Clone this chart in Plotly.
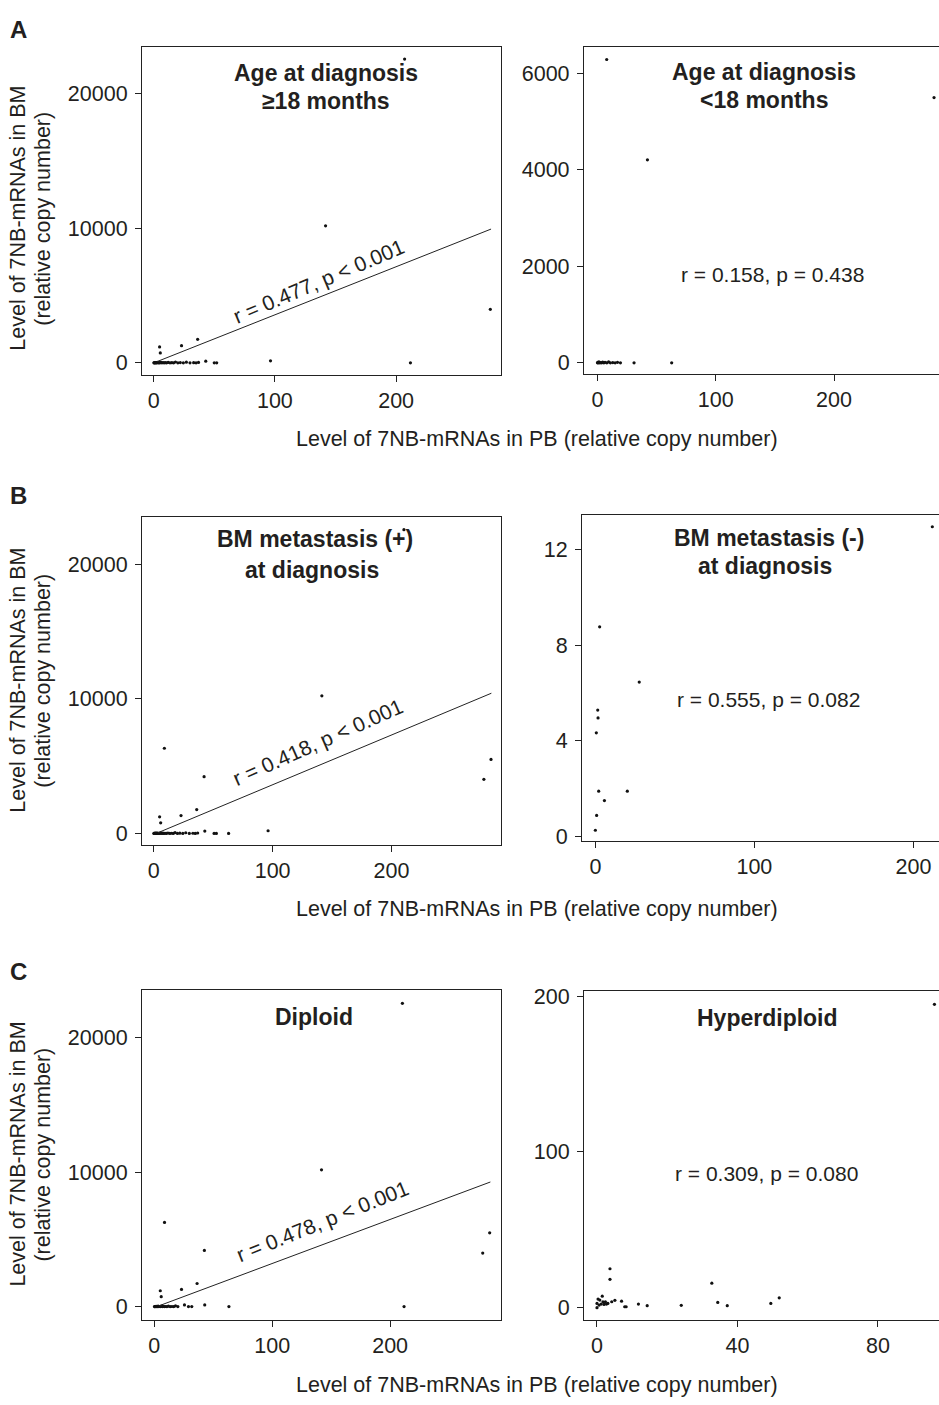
import plotly.graph_objects as go

W, H = 939, 1405
FONT = "Liberation Sans, Arial, sans-serif"
TXT = "#231f20"

# ---------------- data ----------------
# Panel A left: Age at diagnosis >=18 months
a1_x = [0.2, 0.5, 0.8, 1.1, 1.5, 1.9, 2.3, 2.8, 3.3, 3.9, 4.5, 5.2, 6.0, 6.8, 7.7, 8.6, 9.6,
        10.7, 12.0, 13.5, 15.0, 16.5, 18.0, 20.0, 22.0, 24.5, 27.0, 30.0, 33.0, 35.0, 37.0,
        43.0, 50.0, 52.0, 96.4, 211.8, 277.7, 141.8, 207.0, 4.9, 5.5, 23.0, 36.3]
a1_y = [0, 5, 10, 0, 20, 0, 15, 0, 30, 0, 10, 0, 40, 0, 20, 0, 10,
        0, 30, 0, 10, 0, 60, 0, 20, 0, 50, 0, 10, 0, 30,
        120, 0, 0, 150, 0, 3970, 10170, 22540, 1180, 735, 1270, 1740]
a1_fit = [-8.5, 35.7]      # intercept, slope
a1_fit_x = [3.0, 278.3]
a1_label = "r = 0.477, p < 0.001"

# Panel A right: Age at diagnosis <18 months
a2_x = [0.1, 0.4, 0.8, 1.3, 2.0, 2.8, 3.6, 4.5, 5.5, 6.5, 8.0, 9.5, 11.0, 13.0, 15.0, 17.0,
        19.5, 31.0, 62.8, 7.9, 42.3, 284.5]
a2_y = [0, 10, 0, 20, 0, 5, 0, 15, 0, 10, 0, 20, 0, 5, 0, 10,
        0, 0, 0, 6290, 4210, 5500]
a2_label = "r = 0.158, p = 0.438"

# Panel B left: BM metastasis (+) at diagnosis
b1_x = [0.2, 0.5, 0.8, 1.1, 1.5, 1.9, 2.3, 2.8, 3.3, 3.9, 4.5, 5.2, 6.0, 6.8, 7.7, 8.6, 9.6,
        10.7, 12.0, 13.5, 15.0, 16.5, 18.0, 20.0, 22.0, 24.5, 27.0, 30.0, 33.0, 35.0, 37.0,
        43.0, 50.8, 52.7, 63.0, 96.2, 5.0, 5.9, 23.0, 36.2, 42.4, 9.0, 141.4, 210.4, 277.6, 283.6]
b1_y = [0, 5, 10, 0, 20, 0, 15, 0, 30, 0, 10, 0, 40, 0, 20, 0, 10,
        0, 30, 0, 10, 0, 60, 0, 20, 0, 50, 0, 10, 0, 30,
        170, 0, 0, 0, 196, 1230, 785, 1325, 1770, 4220, 6330, 10230, 22580, 4020, 5500]
b1_fit = [-83.0, 37.0]
b1_fit_x = [3.6, 283.9]
b1_label = "r = 0.418, p < 0.001"

# Panel B right: BM metastasis (-) at diagnosis
b2_x = [211.9, 2.7, 27.6, 1.5, 1.7, 0.6, 2.1, 20.1, 5.7, 0.8, 0.0]
b2_y = [12.95, 8.77, 6.46, 5.29, 4.96, 4.34, 1.90, 1.90, 1.51, 0.89, 0.27]
b2_label = "r = 0.555, p = 0.082"

# Panel C left: Diploid
c1_x = [0.2, 0.5, 0.8, 1.1, 1.5, 1.9, 2.3, 2.8, 3.3, 3.9, 4.5, 5.2, 6.0, 6.8, 7.7, 8.6, 9.6,
        10.7, 12.0, 13.5, 15.0, 16.5, 18.0, 20.0,
        25.6, 29.0, 31.8, 42.8, 63.3, 211.8, 5.1, 5.9, 23.1, 36.3, 42.5, 8.7, 141.8, 210.4,
        278.5, 284.4]
c1_y = [0, 5, 10, 0, 20, 0, 15, 0, 30, 0, 10, 0, 40, 0, 20, 0, 10,
        0, 30, 0, 10, 0, 60, 0,
        123, 0, 0, 123, 0, 0, 1180, 740, 1280, 1720, 4180, 6270, 10185, 22580,
        3985, 5490]
c1_fit = [-71.0, 32.8]
c1_fit_x = [3.7, 285.0]
c1_label = "r = 0.478, p < 0.001"

# Panel C right: Hyperdiploid
c2_x = [96.1, 3.7, 3.7, 32.7, 51.9, 49.5, 34.4, 37.1, 24.0, 14.3, 11.8, 7.9, 8.3, 7.0, 5.1,
        4.2, 1.5, 0.3, 0.8, 0.0, 0.0, 0.6, 1.2, 2.0, 2.7, 3.1, 1.7, 2.4]
c2_y = [194.7, 25.0, 18.2, 15.7, 6.3, 2.75, 3.4, 1.3, 1.5, 1.3, 2.3, 0.6, 0.6, 4.2, 4.7,
        3.8, 7.4, 5.5, 4.9, 2.75, 0.0, 1.7, 2.3, 2.1, 2.3, 2.75, 3.8, 3.8]
c2_label = "r = 0.309, p = 0.080"

big_ticks = [0, 10000, 20000]
big_ticktext = ["0", "10000", "20000"]
x300_ticks = [0, 100, 200]
x300_text = ["0", "100", "200"]
a2_yticks = [0, 2000, 4000, 6000]
b2_yticks = [0, 4, 8, 12]
c2_yticks = [0, 100, 200]
c2_xticks = [0, 40, 80]

titles = {
    "a1": ["Age at diagnosis", "\u226518 months"],
    "a2": ["Age at diagnosis", "<18 months"],
    "b1": ["BM metastasis (+)", "at diagnosis"],
    "b2": ["BM metastasis (-)", "at diagnosis"],
    "c1": ["Diploid"],
    "c2": ["Hyperdiploid"],
}
x_title = "Level of 7NB-mRNAs in PB (relative copy number)"
y_title_1 = "Level of 7NB-mRNAs in BM"
y_title_2 = "(relative copy number)"
letters = ["A", "B", "C"]

# ---------------- layout helpers (pixel boxes) ----------------
def px(x):
    return x / W

def py(y):
    return 1 - y / H

TICK = 21.5
TITLE = 23
LAB = 21
AXT = 21.5

# (left, top, right, bottom) pixel boxes, x range, y range
panels = [
    dict(key="a1", box=(142, 40, 501, 372), xr=[-9.6, 286.5], yr=[-906, 23470],
         xt=x300_ticks, xtt=x300_text, yt=big_ticks, ytt=big_ticktext, full=True,
         x=a1_x, y=a1_y, fit=a1_fit, fitx=a1_fit_x, lab=a1_label, labpos=(318, 277), ang=-23,
         tpos=[(326, 67), (326, 95)]),
    dict(key="a2", box=(584, 40, 939, 371), xr=[-11.3, 288.7], yr=[-232, 6558],
         xt=x300_ticks, xtt=x300_text, yt=a2_yticks, ytt=[str(v) for v in a2_yticks], full=False,
         x=a2_x, y=a2_y, fit=None, lab=a2_label, labpos=(772, 270), ang=0,
         tpos=[(764, 66), (764, 94)]),
    dict(key="b1", box=(142, 515, 501, 847), xr=[-9.8, 292.0], yr=[-859, 23560],
         xt=x300_ticks, xtt=x300_text, yt=big_ticks, ytt=big_ticktext, full=True,
         x=b1_x, y=b1_y, fit=b1_fit, fitx=b1_fit_x, lab=b1_label, labpos=(317, 743), ang=-24,
         tpos=[(315, 538), (312, 569)]),
    dict(key="b2", box=(582, 513, 939, 843), xr=[-8.4, 216.1], yr=[-0.18, 13.46],
         xt=x300_ticks, xtt=x300_text, yt=b2_yticks, ytt=[str(v) for v in b2_yticks], full=False,
         x=b2_x, y=b2_y, fit=None, lab=b2_label, labpos=(768, 700), ang=0,
         tpos=[(769, 537), (765, 565)]),
    dict(key="c1", box=(142, 994, 501, 1327), xr=[-10.4, 294.0], yr=[-984, 23540],
         xt=x300_ticks, xtt=x300_text, yt=big_ticks, ytt=big_ticktext, full=True,
         x=c1_x, y=c1_y, fit=c1_fit, fitx=c1_fit_x, lab=c1_label, labpos=(322, 1228), ang=-22,
         tpos=[(314, 1021)]),
    dict(key="c2", box=(584, 995, 939, 1327), xr=[-3.7, 97.4], yr=[-7.8, 203],
         xt=c2_xticks, xtt=[str(v) for v in c2_xticks], yt=c2_yticks, ytt=[str(v) for v in c2_yticks], full=False,
         x=c2_x, y=c2_y, fit=None, lab=c2_label, labpos=(766, 1179), ang=0,
         tpos=[(767, 1022)]),
]

fig = go.Figure()
annotations = []
layout_axes = {}

for i, p in enumerate(panels, start=1):
    sfx = "" if i == 1 else str(i)
    xa, ya = "x" + sfx, "y" + sfx
    l, t, r, b = p["box"]
    fig.add_trace(go.Scatter(x=p["x"], y=p["y"], mode="markers", xaxis=xa, yaxis=ya,
                             marker=dict(size=3.2, color="#111111"), showlegend=False,
                             hoverinfo="skip"))
    if p["fit"] is not None:
        a, s = p["fit"]
        fx = p["fitx"]
        fy = [a + s * v for v in fx]
        fig.add_trace(go.Scatter(x=fx, y=fy, mode="lines", xaxis=xa, yaxis=ya,
                                 line=dict(color="#222222", width=1), showlegend=False,
                                 hoverinfo="skip"))
    layout_axes["xaxis" + sfx] = dict(
        domain=[px(l), min(px(r), 1.0)], anchor=ya, range=p["xr"],
        tickmode="array", tickvals=p["xt"], ticktext=p["xtt"],
        showline=True, linecolor="#222222", linewidth=1.2, mirror=True,
        ticks="outside", ticklen=6, tickcolor="#222222", tickwidth=1,
        tickfont=dict(size=TICK, color=TXT, family=FONT),
        showgrid=False, zeroline=False, fixedrange=True)
    layout_axes["yaxis" + sfx] = dict(
        domain=[py(b), py(t)], anchor=xa, range=p["yr"],
        tickmode="array", tickvals=p["yt"], ticktext=p["ytt"],
        showline=True, linecolor="#222222", linewidth=1.2, mirror=p["full"],
        ticks="outside", ticklen=6, tickcolor="#222222", tickwidth=1,
        ticklabelstandoff=3,
        tickfont=dict(size=TICK, color=TXT, family=FONT),
        showgrid=False, zeroline=False, fixedrange=True)
    for line, (tx, ty) in zip(titles[p["key"]], p["tpos"]):
        annotations.append(dict(text="<b>" + line + "</b>", x=px(tx), y=py(ty),
                                xref="paper", yref="paper", showarrow=False,
                                xanchor="center", yanchor="middle",
                                font=dict(size=TITLE, color=TXT, family=FONT)))
    lx, ly = p["labpos"]
    annotations.append(dict(text=p["lab"], x=px(lx), y=py(ly), xref="paper", yref="paper",
                            showarrow=False, xanchor="center", yanchor="middle",
                            textangle=p["ang"], font=dict(size=LAB, color=TXT, family=FONT)))

row_letter_y = [23, 494, 975]
row_center_y = [214, 681, 1160]
row_xtitle_y = [437, 912, 1393]
for letter, ly, cy, xy in zip(letters, row_letter_y, row_center_y, row_xtitle_y):
    annotations.append(dict(text="<b>" + letter + "</b>", x=px(18), y=py(ly), xref="paper",
                            yref="paper", showarrow=False, xanchor="center", yanchor="middle",
                            font=dict(size=24, color=TXT, family=FONT)))
    annotations.append(dict(text=x_title, x=px(537), y=py(xy), xref="paper", yref="paper",
                            showarrow=False, xanchor="center", yanchor="middle",
                            font=dict(size=AXT, color=TXT, family=FONT)))
    annotations.append(dict(text=y_title_1, x=px(18), y=py(cy), xref="paper", yref="paper",
                            showarrow=False, xanchor="center", yanchor="middle", textangle=-90,
                            font=dict(size=AXT, color=TXT, family=FONT)))
    annotations.append(dict(text=y_title_2, x=px(43), y=py(cy), xref="paper", yref="paper",
                            showarrow=False, xanchor="center", yanchor="middle", textangle=-90,
                            font=dict(size=AXT, color=TXT, family=FONT)))

fig.update_layout(width=W, height=H, margin=dict(l=0, r=0, t=0, b=0),
                  paper_bgcolor="white", plot_bgcolor="white",
                  font=dict(family=FONT, color=TXT), annotations=annotations,
                  showlegend=False, **layout_axes)

page_fix = "document.body.style.margin='0px';document.body.style.overflow='hidden';"
fig.write_html("out.html", config={"displayModeBar": False}, post_script=page_fix)
